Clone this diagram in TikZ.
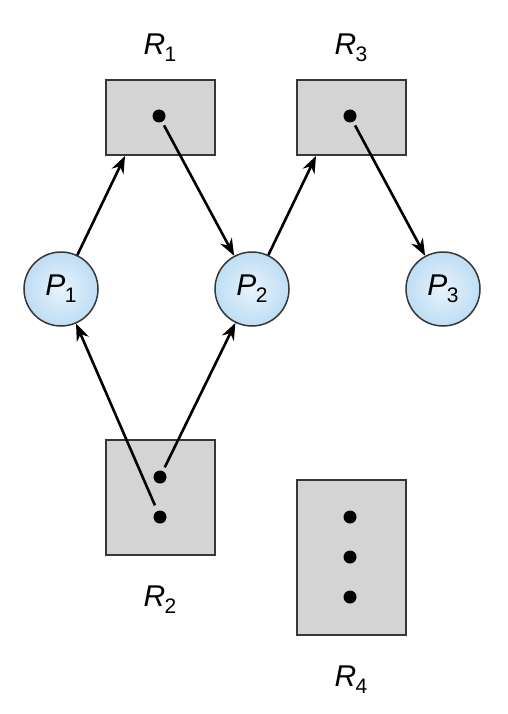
\documentclass[tikz,border=0pt]{standalone}
\usepackage{fontspec}
\setmainfont{Liberation Sans}
\usetikzlibrary{arrows.meta}
\definecolor{boxfill}{RGB}{212,212,212}
\definecolor{boxline}{RGB}{55,55,55}
\definecolor{circin}{RGB}{232,243,252}
\definecolor{circout}{RGB}{190,221,244}
\newcommand\lbl[2]{{\itshape #1}\kern-0.5pt\raisebox{-7pt}{\fontsize{21}{21}\selectfont #2}}
\tikzset{
  resbox/.style={draw=boxline, fill=boxfill, line width=1.5pt, inner sep=0pt},
  proc/.style={circle, draw=boxline, inner color=circin, outer color=circout, line width=1.5pt, minimum size=74pt, inner sep=0pt, font=\fontsize{30}{30}\selectfont},
  inst/.style={circle, fill=black, minimum size=13pt, inner sep=0pt},
  rlabel/.style={font=\fontsize{30}{30}\selectfont, inner sep=0pt},
  edge/.style={line width=2.6pt, -{Stealth[length=17pt,width=13pt]}},
}
\begin{document}
\begin{tikzpicture}[x=1pt,y=-1pt]
\useasboundingbox (0,0) rectangle (508,714);
% resource boxes
\node[resbox, minimum width=109pt, minimum height=75pt] (R1) at (160.5,117.5) {};
\node[resbox, minimum width=109pt, minimum height=75pt] (R3) at (351.5,117.5) {};
\node[resbox, minimum width=109pt, minimum height=115pt] (R2) at (160.5,497.5) {};
\node[resbox, minimum width=109pt, minimum height=155pt] (R4) at (351.5,557.5) {};
% labels
\node[rlabel] (lR1) at (160,48) {\lbl{R}{1}};
\node[rlabel] (lR3) at (351,48) {\lbl{R}{3}};
\node[rlabel] (lR2) at (160,600) {\lbl{R}{2}};
\node[rlabel] (lR4) at (351,680) {\lbl{R}{4}};
% instances
\node[inst] (d1) at (159,116) {};
\node[inst] (d3) at (350,116) {};
\node[inst] (d2a) at (160,477) {};
\node[inst] (d2b) at (160,517) {};
\node[inst] (d4a) at (350,517) {};
\node[inst] (d4b) at (350,557) {};
\node[inst] (d4c) at (350,597) {};
% processes
\node[proc] (P1) at (61,289) {\lbl{P}{1}};
\node[proc] (P2) at (252,289) {\lbl{P}{2}};
\node[proc] (P3) at (443,289) {\lbl{P}{3}};
% entry points on box edges
\coordinate (r1in) at (125,156);
\coordinate (r3in) at (316,156);
% edges
\draw[edge] (P1) -- (r1in);
\draw[edge, shorten <=4pt] (d1) -- (P2);
\draw[edge] (P2) -- (r3in);
\draw[edge, shorten <=4pt] (d3) -- (P3);
\draw[edge, shorten <=6pt] (d2b) -- (P1);
\draw[edge, shorten <=4pt] (d2a) -- (P2);
\end{tikzpicture}
\end{document}
